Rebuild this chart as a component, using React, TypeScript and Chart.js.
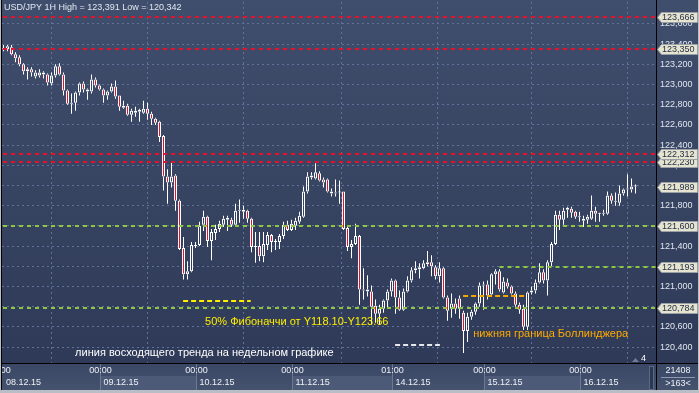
import React, { useEffect, useRef } from 'react';
import { Chart, registerables } from 'chart.js';

Chart.register(...registerables);

// ---- OHLC data (USD/JPY, 1H), bar index 0 = 08.12.15 00:00 ----
const openPrices = [
  123.36, 123.35, 123.37, 123.30, 123.27, 123.20, 123.13, 123.15, 123.08, 123.09,
  123.12, 123.10, 123.01, 123.09, 123.18, 123.10, 122.94, 122.81, 122.82, 122.92,
  123.01, 122.95, 122.93, 123.05, 122.99, 122.95, 122.89, 122.93, 122.98, 122.89,
  122.79, 122.79, 122.70, 122.74, 122.73, 122.72, 122.76, 122.71, 122.66, 122.63,
  122.49, 122.09, 122.03, 122.10, 121.85, 121.38, 121.12, 121.15, 121.40, 121.41,
  121.61, 121.69, 121.45, 121.53, 121.57, 121.61, 121.66, 121.66, 121.61, 121.75,
  121.76, 121.75, 121.67, 121.40, 121.40, 121.30, 121.41, 121.51, 121.44, 121.44,
  121.50, 121.61, 121.56, 121.60, 121.64, 121.69, 121.94, 122.08, 122.07, 122.12,
  122.06, 122.06, 121.94, 121.92, 121.93, 121.94, 121.58, 121.39, 121.42, 121.50,
  120.97, 120.97, 120.95, 120.81, 120.73, 120.78, 120.86, 120.95, 121.06, 120.89,
  120.77, 120.95, 121.06, 121.16, 121.17, 121.18, 121.22, 121.24, 121.19, 121.10,
  121.18, 120.89, 120.78, 120.83, 120.88, 120.74, 120.56, 120.70, 120.75, 120.83,
  121.01, 121.02, 120.92, 121.12, 121.15, 120.94, 121.04, 121.00, 120.93, 120.82,
  120.78, 120.60, 120.94, 120.96, 121.04, 121.14, 121.06, 121.24, 121.42, 121.71,
  121.66, 121.76, 121.77, 121.74, 121.69, 121.65, 121.66, 121.67, 121.75, 121.72,
  121.72, 121.72, 121.90, 121.84, 121.83, 121.92, 121.96, 121.96, 121.99,
];
const highPrices = [
  123.39, 123.391, 123.39, 123.32, 123.29, 123.21, 123.17, 123.17, 123.14, 123.15,
  123.13, 123.11, 123.12, 123.20, 123.21, 123.12, 122.95, 122.91, 122.93, 123.02,
  123.03, 122.96, 123.10, 123.07, 123.00, 122.96, 122.94, 123.01, 123.04, 122.89,
  122.84, 122.81, 122.76, 122.78, 122.76, 122.84, 122.82, 122.73, 122.67, 122.64,
  122.50, 122.16, 122.24, 122.11, 121.86, 121.49, 121.25, 121.44, 121.44, 121.64,
  121.75, 121.70, 121.57, 121.61, 121.65, 121.70, 121.70, 121.68, 121.82, 121.86,
  121.80, 121.76, 121.68, 121.54, 121.54, 121.54, 121.54, 121.52, 121.47, 121.52,
  121.64, 121.65, 121.66, 121.68, 121.74, 121.99, 122.13, 122.13, 122.22, 122.14,
  122.08, 122.07, 121.97, 122.06, 122.05, 121.94, 121.59, 121.46, 121.62, 121.51,
  121.18, 121.11, 121.01, 120.87, 120.82, 120.87, 120.97, 121.08, 121.07, 120.96,
  120.98, 121.10, 121.19, 121.25, 121.23, 121.26, 121.35, 121.31, 121.21, 121.24,
  121.19, 120.91, 120.93, 120.88, 120.91, 120.76, 120.74, 120.77, 120.84, 121.04,
  121.05, 121.06, 121.13, 121.17, 121.17, 121.09, 121.08, 121.01, 120.95, 120.84,
  120.82, 120.95, 121.00, 121.07, 121.23, 121.17, 121.26, 121.44, 121.75, 121.75,
  121.78, 121.79, 121.79, 121.75, 121.74, 121.70, 121.71, 121.90, 121.79, 121.73,
  121.76, 121.94, 121.92, 121.93, 122.00, 121.97, 122.11, 122.07, 122.01,
];
const lowPrices = [
  123.33, 123.33, 123.29, 123.22, 123.18, 123.10, 123.05, 123.08, 123.06, 123.07,
  123.06, 122.99, 122.99, 123.07, 123.09, 122.89, 122.80, 122.71, 122.74, 122.89,
  122.92, 122.85, 122.91, 122.97, 122.94, 122.82, 122.85, 122.92, 122.86, 122.74,
  122.76, 122.69, 122.63, 122.68, 122.63, 122.71, 122.65, 122.60, 122.60, 122.43,
  121.95, 121.82, 121.98, 121.75, 121.36, 121.07, 121.07, 121.14, 121.38, 121.40,
  121.55, 121.39, 121.26, 121.46, 121.54, 121.59, 121.55, 121.59, 121.60, 121.63,
  121.67, 121.63, 121.34, 121.235, 121.25, 121.24, 121.36, 121.34, 121.36, 121.37,
  121.47, 121.55, 121.55, 121.56, 121.62, 121.68, 121.92, 122.06, 122.06, 122.04,
  121.98, 121.93, 121.89, 121.89, 121.82, 121.56, 121.35, 121.28, 121.41, 120.82,
  120.87, 120.90, 120.62, 120.64, 120.62, 120.74, 120.78, 120.90, 120.73, 120.76,
  120.76, 120.94, 121.04, 121.13, 121.08, 121.17, 121.20, 121.10, 121.07, 121.04,
  120.88, 120.66, 120.69, 120.73, 120.68, 120.342, 120.45, 120.67, 120.72, 120.80,
  120.77, 120.87, 120.90, 121.02, 120.95, 120.93, 120.98, 120.92, 120.80, 120.73,
  120.57, 120.57, 120.92, 120.93, 121.03, 121.03, 120.91, 121.20, 121.41, 121.56,
  121.61, 121.68, 121.68, 121.67, 121.64, 121.59, 121.62, 121.66, 121.64, 121.64,
  121.70, 121.71, 121.82, 121.80, 121.80, 121.90, 121.89, 121.93, 121.92,
];
const closePrices = [
  123.35, 123.38, 123.30, 123.26, 123.20, 123.13, 123.15, 123.12, 123.12, 123.12,
  123.10, 123.02, 123.09, 123.18, 123.10, 122.94, 122.81, 122.82, 122.92, 123.01,
  122.95, 122.93, 123.05, 122.99, 122.95, 122.89, 122.93, 122.98, 122.88, 122.78,
  122.77, 122.70, 122.74, 122.72, 122.75, 122.76, 122.71, 122.66, 122.62, 122.48,
  122.09, 122.03, 122.09, 121.85, 121.37, 121.12, 121.15, 121.41, 121.41, 121.60,
  121.69, 121.45, 121.54, 121.57, 121.62, 121.67, 121.68, 121.61, 121.75, 121.76,
  121.74, 121.67, 121.39, 121.39, 121.30, 121.42, 121.51, 121.44, 121.45, 121.50,
  121.61, 121.56, 121.62, 121.65, 121.70, 121.94, 122.09, 122.10, 122.13, 122.05,
  122.03, 121.94, 121.92, 121.93, 121.93, 121.57, 121.39, 121.42, 121.50, 120.97,
  120.96, 120.95, 120.80, 120.73, 120.78, 120.86, 120.95, 121.06, 120.89, 120.77,
  120.95, 121.06, 121.16, 121.18, 121.19, 121.23, 121.24, 121.20, 121.10, 121.18,
  120.89, 120.76, 120.83, 120.78, 120.78, 120.56, 120.70, 120.75, 120.83, 121.01,
  121.02, 120.91, 121.12, 121.15, 120.97, 121.05, 121.00, 120.93, 120.82, 120.77,
  120.60, 120.94, 120.96, 121.04, 121.14, 121.06, 121.24, 121.42, 121.71, 121.66,
  121.75, 121.78, 121.73, 121.69, 121.70, 121.67, 121.69, 121.75, 121.72, 121.72,
  121.73, 121.90, 121.85, 121.85, 121.92, 121.96, 121.97, 121.99, 121.989,
];

// ---- axes ----
const priceTicks = [
  120.4, 120.6, 120.8, 121.0, 121.2, 121.4, 121.6, 121.8, 122.0,
  122.2, 122.4, 122.6, 122.8, 123.0, 123.2, 123.4, 123.6,
];
const dayStartIndex = [0, 24, 48, 72, 97, 120, 144];
const dayTimeLabels = ['00:00', '00:00', '00:00', '00:00', '01:00', '00:00', '00:00'];
const dayDateLabels = ['08.12.15', '09.12.15', '10.12.15', '11.12.15', '14.12.15', '15.12.15', '16.12.15'];

// ---- horizontal levels ----
const redLevels = [123.666, 123.35, 122.23, 122.312];
const greenLevels = [121.6, 121.193, 120.784];
const greenLevelStart = [-1, 124, -1];
const currentPrice = 121.989;

// ---- short segments [fromIndex, toIndex, price] ----
const yellowSegment = [44.9, 61.8, 120.859];
const orangeSegment = [114.9, 130.4, 120.903];
const whiteSegment = [97.9, 109.1, 120.417];

// ---- annotation texts [index, price] ----
const fibText = '50% Фибоначчи от Y118.10-Y123.66';
const fibPos = [50.4, 120.653];
const bbText = 'нижняя граница Боллинджера';
const bbPos = [117.45, 120.529];
const trendText = 'линия восходящего тренда на недельном графике';
const trendPos = [17.9, 120.341];
const titleText = 'USD/JPY 1H High = 123,391 Low = 120,342';
const barsCountText = '21408';
const visibleBarsText = '>163<';

const FONT = '"Liberation Sans", Arial, sans-serif';
const RED = '#e8102a';
const GREEN = '#8dc63f';
const GRID = '#61719a';

function fmt(v: number) {
  return v.toFixed(3).replace('.', ',');
}

const mtPlugin = {
  id: 'mtDecor',
  beforeDraw(chart: any) {
    const ctx = chart.ctx as CanvasRenderingContext2D;
    const W = chart.width;
    const H = chart.height;
    ctx.save();
    const g = ctx.createLinearGradient(0, 0, 0, 364);
    g.addColorStop(0, '#404e6d');
    g.addColorStop(1, '#2e3a57');
    ctx.fillStyle = g;
    ctx.fillRect(0, 0, W, 364);
    // bottom time panel
    const gp = ctx.createLinearGradient(0, 364, 0, 391);
    gp.addColorStop(0, '#3a4765');
    gp.addColorStop(1, '#46536f');
    ctx.fillStyle = gp;
    ctx.fillRect(0, 364, W, H - 364);
    const xs = chart.scales.x;
    const edges = dayStartIndex.map((k: number) => Math.round(xs.getPixelForValue(k)) + 0.5);
    edges[0] = 0;
    edges.push(657);
    for (let i = 0; i < edges.length - 1; i++) {
      if (i % 2 === 1) {
        ctx.fillStyle = '#4d5a77';
        ctx.fillRect(edges[i], 376, edges[i + 1] - edges[i], 14);
      }
    }
    ctx.restore();
  },
  afterDatasetsDraw(chart: any) {
    const ctx = chart.ctx as CanvasRenderingContext2D;
    const xs = chart.scales.x;
    const ys = chart.scales.y;
    const area = chart.chartArea;
    ctx.save();
    ctx.beginPath();
    ctx.rect(area.left, area.top, area.right - area.left, area.bottom - area.top);
    ctx.clip();
    const hline = (p: number, x0: number, x1: number, color: string, dash: number[]) => {
      const y = Math.round(ys.getPixelForValue(p));
      ctx.strokeStyle = color;
      ctx.lineWidth = 2;
      ctx.setLineDash(dash);
      ctx.beginPath();
      ctx.moveTo(x0, y);
      ctx.lineTo(x1, y);
      ctx.stroke();
    };
    redLevels.forEach((p) => hline(p, area.left + 1, area.right, RED, [4, 4]));
    greenLevels.forEach((p, i) => {
      const x0 = greenLevelStart[i] >= 0 ? xs.getPixelForValue(greenLevelStart[i]) : area.left + 1;
      hline(p, x0, area.right, GREEN, [4, 4]);
    });
    hline(yellowSegment[2], xs.getPixelForValue(yellowSegment[0]), xs.getPixelForValue(yellowSegment[1]), '#ffee00', [5, 3]);
    hline(orangeSegment[2], xs.getPixelForValue(orangeSegment[0]), xs.getPixelForValue(orangeSegment[1]), '#f0a500', [5, 3]);
    hline(whiteSegment[2], xs.getPixelForValue(whiteSegment[0]), xs.getPixelForValue(whiteSegment[1]), '#e6e8ee', [5, 3]);
    ctx.setLineDash([]);

    ctx.font = `11px ${FONT}`;
    ctx.textBaseline = 'middle';
    ctx.textAlign = 'left';
    ctx.fillStyle = '#ffee00';
    ctx.fillText(fibText, xs.getPixelForValue(fibPos[0]), ys.getPixelForValue(fibPos[1]));
    ctx.fillStyle = '#ffab00';
    ctx.fillText(bbText, xs.getPixelForValue(bbPos[0]), ys.getPixelForValue(bbPos[1]));
    ctx.fillStyle = '#ffffff';
    ctx.fillText(trendText, xs.getPixelForValue(trendPos[0]), ys.getPixelForValue(trendPos[1]));

    // small marker "4"
    ctx.font = `9px ${FONT}`;
    ctx.fillStyle = '#6f7c98';
    ctx.beginPath();
    ctx.moveTo(632, 362);
    ctx.lineTo(635.5, 358);
    ctx.lineTo(639, 362);
    ctx.closePath();
    ctx.fill();
    ctx.fillStyle = '#ffffff';
    ctx.fillText('4', 641, 359);
    ctx.restore();
  },
  afterDraw(chart: any) {
    const ctx = chart.ctx as CanvasRenderingContext2D;
    const xs = chart.scales.x;
    const ys = chart.scales.y;
    const W = chart.width;
    const H = chart.height;
    ctx.save();
    // title
    ctx.font = `9px ${FONT}`;
    ctx.fillStyle = '#e2e7ef';
    ctx.textAlign = 'left';
    ctx.textBaseline = 'middle';
    ctx.fillText(titleText, 4, 8);
    // price tags
    const tag = (p: number) => {
      const y = Math.round(ys.getPixelForValue(p));
      ctx.fillStyle = '#e6e4cf';
      ctx.strokeStyle = '#9aa0a8';
      ctx.lineWidth = 1;
      ctx.beginPath();
      ctx.moveTo(657.5, y + 0.5);
      ctx.lineTo(661.5, y - 4.5);
      ctx.lineTo(697.5, y - 4.5);
      ctx.lineTo(697.5, y + 5.5);
      ctx.lineTo(661.5, y + 5.5);
      ctx.closePath();
      ctx.fill();
      ctx.stroke();
      ctx.fillStyle = '#24304a';
      ctx.font = `9px ${FONT}`;
      ctx.textAlign = 'left';
      ctx.textBaseline = 'middle';
      ctx.fillText(fmt(p), 662, y + 1);
    };
    redLevels.forEach(tag);
    tag(currentPrice);
    greenLevels.forEach(tag);

    // time axis labels
    ctx.beginPath();
    ctx.rect(2, 364, 655, 27);
    ctx.clip();
    ctx.font = `9px ${FONT}`;
    ctx.textBaseline = 'middle';
    dayStartIndex.forEach((k, i) => {
      const x = Math.round(xs.getPixelForValue(k)) + 0.5;
      if (i > 0) {
        ctx.strokeStyle = '#6c7995';
        ctx.lineWidth = 1;
        ctx.beginPath();
        ctx.moveTo(x, 364);
        ctx.lineTo(x, 390);
        ctx.stroke();
      }
      ctx.fillStyle = '#eef1f6';
      ctx.textAlign = 'center';
      ctx.fillText(dayTimeLabels[i], i === 0 ? x - 5 : x, 371);
      ctx.textAlign = 'left';
      ctx.fillText(dayDateLabels[i], i === 0 ? 6 : x + 3, 383);
    });
    ctx.restore();
    ctx.save();
    // scroll thumb
    ctx.fillStyle = '#2c3751';
    ctx.fillRect(649, 366, 5, 24);
    ctx.strokeStyle = '#5b6884';
    ctx.strokeRect(649.5, 366.5, 4, 23);
    // bottom right box
    ctx.fillStyle = '#eef1f6';
    ctx.font = `9px ${FONT}`;
    ctx.textAlign = 'center';
    ctx.textBaseline = 'middle';
    ctx.fillText(barsCountText, 678, 371);
    ctx.fillText(visibleBarsText, 678, 384);
    ctx.strokeStyle = '#8e99b0';
    ctx.beginPath();
    ctx.moveTo(661, 377.5);
    ctx.lineTo(695, 377.5);
    ctx.stroke();
    // separators and frame
    ctx.strokeStyle = '#000000';
    ctx.lineWidth = 1;
    ctx.beginPath();
    ctx.moveTo(656.5, 0);
    ctx.lineTo(656.5, 391);
    ctx.moveTo(0, 363.5);
    ctx.lineTo(W, 363.5);
    ctx.moveTo(1.5, 0);
    ctx.lineTo(1.5, 391);
    ctx.stroke();
    ctx.fillStyle = '#b8bdc6';
    ctx.fillRect(0, 390, W, H - 390);
    ctx.fillRect(0, 0, 1, H);
    ctx.fillRect(W - 1, 0, 1, H);
    ctx.restore();
  },
};

export default function App() {
  const ref = useRef<HTMLCanvasElement>(null);
  useEffect(() => {
    document.body.style.margin = '0';
    const canvas = ref.current;
    if (!canvas) return;
    const idx = openPrices.map((_, i) => i);
    const bodyData = idx.map((i) => ({ x: i, y: [openPrices[i], closePrices[i]] }));
    const upperWick = idx.map((i) => ({ x: i, y: [Math.max(openPrices[i], closePrices[i]), highPrices[i]] }));
    const lowerWick = idx.map((i) => ({ x: i, y: [lowPrices[i], Math.min(openPrices[i], closePrices[i])] }));
    const isBear = idx.map((i) => closePrices[i] < openPrices[i]);

    const chart = new Chart(canvas, {
      type: 'bar',
      data: {
        datasets: [
          {
            data: bodyData as any,
            barThickness: 3,
            backgroundColor: (c: any) => (isBear[c.dataIndex] ? RED : 'rgba(0,0,0,0)'),
            borderColor: '#ffffff',
            borderWidth: 1,
            borderSkipped: false,
            minBarLength: 1,
            grouped: false,
            inflateAmount: 0,
          } as any,
          {
            data: upperWick as any,
            barThickness: 1,
            backgroundColor: '#ffffff',
            borderWidth: 0,
            grouped: false,
            inflateAmount: 0,
          } as any,
          {
            data: lowerWick as any,
            barThickness: 1,
            backgroundColor: '#ffffff',
            borderWidth: 0,
            grouped: false,
            inflateAmount: 0,
          } as any,
        ],
      },
      options: {
        animation: false,
        responsive: false,
        devicePixelRatio: 1,
        events: [],
        layout: { padding: { left: 2, top: 2, right: 0, bottom: 0 } },
        plugins: { legend: { display: false }, tooltip: { enabled: false } },
        scales: {
          x: {
            type: 'linear',
            min: -0.375,
            max: 163.375,
            offset: false,
            afterBuildTicks: (s: any) => {
              s.ticks = dayStartIndex.slice(1).map((v) => ({ value: v }));
            },
            afterFit: (s: any) => {
              s.height = 30;
              s.paddingLeft = 0;
              s.paddingRight = 0;
            },
            ticks: { display: false },
            grid: { color: GRID, drawTicks: false, lineWidth: 1 },
            border: { display: false, dash: [2, 3] },
          },
          y: {
            position: 'right',
            min: 120.242,
            max: 123.817,
            afterBuildTicks: (s: any) => {
              s.ticks = priceTicks.map((v) => ({ value: v }));
            },
            afterFit: (s: any) => {
              s.width = 42;
              s.paddingTop = 0;
              s.paddingBottom = 0;
            },
            ticks: {
              autoSkip: false,
              padding: 3,
              color: '#e1e6ee',
              font: { family: FONT, size: 9 },
              callback: (v: any) => fmt(Number(v)),
            },
            grid: { color: GRID, drawTicks: false, lineWidth: 1 },
            border: { display: false, dash: [2, 3] },
          },
        },
      } as any,
      plugins: [mtPlugin],
    });
    return () => chart.destroy();
  }, []);
  return (
    <div style={{ width: 699, height: 393 }}>
      <canvas ref={ref} width={699} height={393} style={{ display: 'block', width: 699, height: 393 }} />
    </div>
  );
}
